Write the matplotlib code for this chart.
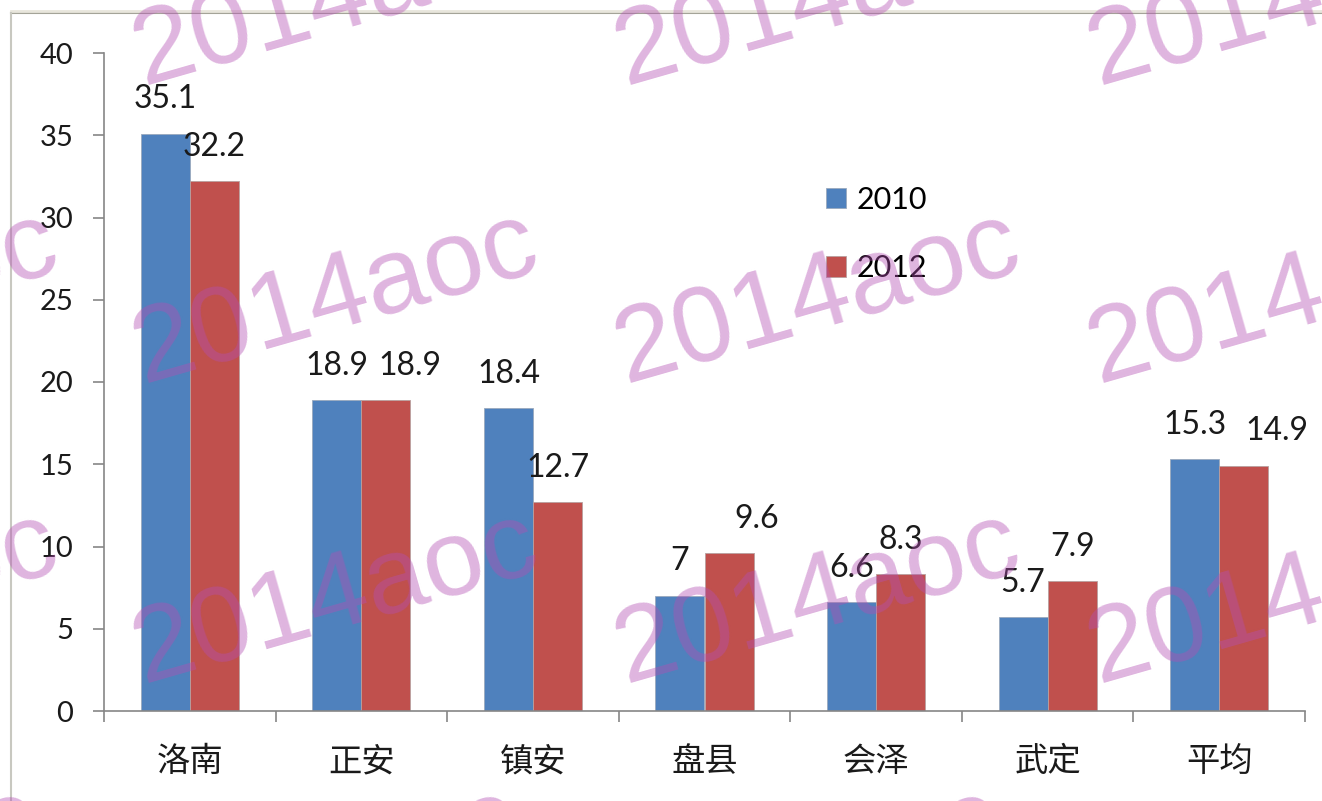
import matplotlib
matplotlib.use("Agg")
import matplotlib.pyplot as plt
from matplotlib.lines import Line2D
import numpy as np

# data
counties = ["洛南", "正安", "镇安", "盘县", "会泽", "武定", "平均"]
vals_2010 = [35.1, 18.9, 18.4, 7, 6.6, 5.7, 15.3]
vals_2012 = [32.2, 18.9, 12.7, 9.6, 8.3, 7.9, 14.9]
series_names = ["2010", "2012"]
y_ticks = [0, 5, 10, 15, 20, 25, 30, 35, 40]

# small manual nudges of the 2012 labels (points), like in the original
label_dx_2012 = [0, 17, 0, 20, 0, 0, 24]

blue = "#4F81BD"
red = "#C0504D"
axis_grey = "#868686"
num_font = "Lato"
cjk_font = ["Noto Sans CJK SC", "DejaVu Sans"]

W, H = 1322, 801
fig = plt.figure(figsize=(W / 100, H / 100), dpi=100)
fig.patch.set_facecolor("white")

def fx(px):
    return px / W

def fy(py):
    return 1 - py / H

ax = fig.add_axes([fx(104), fy(711), fx(1305) - fx(104), fy(53) - fy(711)])

x = np.arange(len(counties))
bw = 0.2857
bars1 = ax.bar(x - bw / 2, vals_2010, bw, color=blue, edgecolor="#9aa9bd",
               linewidth=0.6, label=series_names[0], zorder=2)
bars2 = ax.bar(x + bw / 2, vals_2012, bw, color=red, edgecolor="#b8a0a0",
               linewidth=0.6, label=series_names[1], zorder=2)

# value labels
for rect, v in zip(bars1, vals_2010):
    ax.annotate(f"{v:g}", (rect.get_x() + rect.get_width() / 2, rect.get_height()),
                xytext=(0, 14), textcoords="offset points", ha="center", va="bottom",
                fontsize=23, family=num_font, color="#1a1a1a")
for rect, v, dx in zip(bars2, vals_2012, label_dx_2012):
    ax.annotate(f"{v:g}", (rect.get_x() + rect.get_width() / 2, rect.get_height()),
                xytext=(dx, 14), textcoords="offset points", ha="center", va="bottom",
                fontsize=23, family=num_font, color="#1a1a1a")

ax.set_xlim(-0.5, len(counties) - 0.5)
ax.set_ylim(0, 40)
ax.set_yticks(y_ticks)
ax.set_yticklabels([str(t) for t in y_ticks], family=num_font, fontsize=21, color="#1a1a1a")

# category labels between boundary ticks
ax.set_xticks(np.arange(-0.5, len(counties), 1.0))
ax.set_xticklabels([])
ax.set_xticks(x, minor=True)
ax.set_xticklabels(counties, minor=True, family=cjk_font, fontsize=24, color="#1a1a1a")
ax.tick_params(axis="x", which="minor", length=0, pad=24)
ax.tick_params(axis="x", which="major", length=8, width=1.2, color=axis_grey, direction="out")
ax.tick_params(axis="y", length=8, width=1.2, color=axis_grey, direction="out", pad=14)

for side in ["top", "right"]:
    ax.spines[side].set_visible(False)
for side in ["left", "bottom"]:
    ax.spines[side].set_color(axis_grey)
    ax.spines[side].set_linewidth(1.2)

leg = ax.legend(loc="upper left", bbox_to_anchor=(fx(826), fy(186)),
                bbox_transform=fig.transFigure, frameon=False,
                prop={"family": num_font, "size": 22},
                handlelength=0.65, handleheight=0.65, handletextpad=0.35,
                labelspacing=1.32, borderpad=0, borderaxespad=0)

# outer chart frame (screenshot border)
fig.add_artist(Line2D([fx(11), 1], [fy(13), fy(13)], color="#a4a498", lw=1.5))
fig.add_artist(Line2D([fx(11), 1], [fy(11), fy(11)], color="#e8e6dc", lw=2))
fig.add_artist(Line2D([fx(11), fx(11)], [0, fy(13)], color="#c8c8c0", lw=1.5))

# watermark tiles
wm_cols = [-337, 143, 625, 1098]
wm_rows = [85, 383, 683, 960]
for r, by in enumerate(wm_rows):
    for bx in wm_cols:
        xx = bx - (20 if r == 3 else 0)
        fig.text(fx(xx), fy(by), "2014aoc", family="Liberation Sans", fontsize=78,
                 rotation=16, rotation_mode="anchor", ha="left", va="baseline",
                 color=(0.70, 0.31, 0.70), alpha=0.42, zorder=10)

fig.savefig("out.png", dpi=100, facecolor="white")
